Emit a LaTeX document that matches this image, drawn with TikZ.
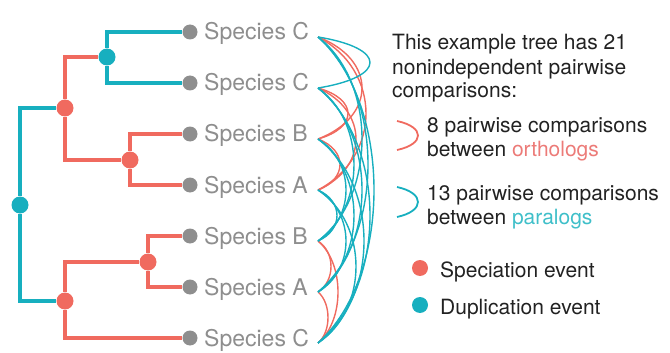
\documentclass[tikz,border=0pt]{standalone}
\usepackage{fontspec}
\setmainfont{TeX Gyre Heros}
\usetikzlibrary{positioning}
\definecolor{specRed}{HTML}{F06A5F}
\definecolor{dupTeal}{HTML}{17AFBF}
\definecolor{leafGray}{HTML}{8E8E8E}
\definecolor{orthoRed}{HTML}{EC7B78}
\definecolor{paraTeal}{HTML}{3FBFC9}
\definecolor{noteInk}{HTML}{222222}

\begin{document}
\begin{tikzpicture}[x=1pt, y=-1pt,
    edge/.style={line width=4pt},
    spec/.style={circle, fill=specRed, inner sep=0pt, minimum size=17pt},
    dup/.style={circle, fill=dupTeal, inner sep=0pt, minimum size=17pt},
    leaf/.style={circle, fill=leafGray, inner sep=0pt, minimum size=15pt},
    tag/.style={text=leafGray, font=\fontsize{23}{27}\selectfont,
                inner sep=0pt, anchor=base west},
    note/.style={text=noteInk, font=\fontsize{21}{24}\selectfont,
                 inner sep=0pt, align=left, anchor=base west},
    pair/.style={line width=1.4pt},
    brace/.style={line width=1.8pt}
  ]
  \useasboundingbox (0,0) rectangle (670,353);

  \node[dup]  (root) at (20,205)  {};
  \node[spec] (s1)   at (65,108)  {};
  \node[dup]  (d1)   at (107,57)  {};
  \node[spec] (s2)   at (130,160) {};
  \node[spec] (s3)   at (65,301)  {};
  \node[spec] (s4)   at (148,262) {};

  \foreach \n/\y/\sp in {1/32/C, 2/83/C, 3/134/B, 4/185/A, 5/236/B, 6/287/A, 7/338/C} {
    \node[leaf] (l\n) at (190,\y) {};
    \node[tag]  (t\n) at (204,\y+8) {Species \sp};
    \coordinate (a\n) at (318,\y+5);
  }

  \draw[edge, dupTeal] (s1) -| (root) |- (s3);
  \draw[edge, specRed] (d1) -| (s1) |- (s2);
  \draw[edge, dupTeal] (l1) -| (d1) |- (l2);
  \draw[edge, specRed] (l3) -| (s2) |- (l4);
  \draw[edge, specRed] (s4) -| (s3) |- (l7);
  \draw[edge, specRed] (l5) -| (s4) |- (l6);

  \foreach \i/\j/\b/\c in {1/3/44/specRed, 1/4/48/specRed, 2/3/30/specRed, 2/4/38/specRed,
      3/4/22/specRed, 5/6/13/specRed, 5/7/20/specRed, 6/7/10/specRed,
      1/2/52/dupTeal, 1/5/44/dupTeal, 1/6/50/dupTeal, 1/7/56/dupTeal,
      2/5/36/dupTeal, 2/6/44/dupTeal, 2/7/52/dupTeal, 3/5/28/dupTeal,
      3/6/36/dupTeal, 3/7/46/dupTeal, 4/5/19/dupTeal, 4/6/28/dupTeal, 4/7/38/dupTeal} {
    \pgfmathsetmacro\bow{\b/0.75}
    \pgfmathsetmacro\dip{0.22*51*(\j-\i)}
    \draw[pair, \c] (a\i) .. controls +(\bow,\dip) and +(\bow,-\dip) .. (a\j);
  }

  \node[note] (intro) at (392,98) {This example tree has 21\\nonindependent pairwise\\comparisons:};

  \coordinate (o1) at (397,121);
  \coordinate (o2) at (397,150);
  \draw[brace, specRed] (o1) .. controls +(28,6) and +(28,-6) .. (o2);
  \node[note] (ortho) at (427,156) {8 pairwise comparisons\\between \textcolor{orthoRed}{orthologs}};

  \coordinate (p1) at (397,187);
  \coordinate (p2) at (397,217);
  \draw[brace, dupTeal] (p1) .. controls +(28,6) and +(28,-6) .. (p2);
  \node[note] (para) at (427,224) {13 pairwise comparisons\\between \textcolor{paraTeal}{paralogs}};

  \node[spec, minimum size=16pt] (kspec) at (420,268) {};
  \node[note] (kspect) at (440,277) {Speciation event};
  \node[dup, minimum size=16pt] (kdup) at (420,305) {};
  \node[note] (kdupt) at (440,314) {Duplication event};
\end{tikzpicture}
\end{document}
